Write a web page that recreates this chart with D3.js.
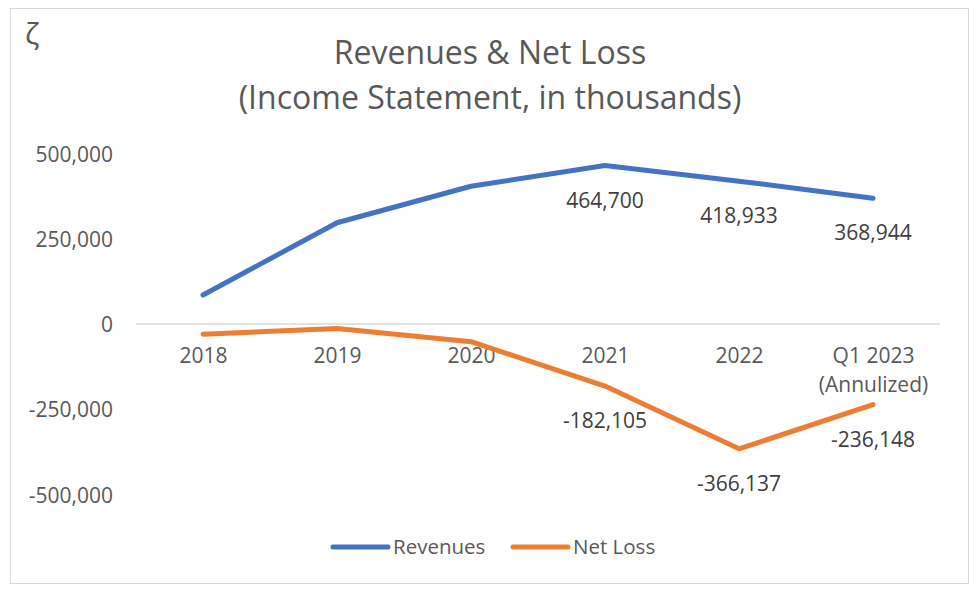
<!DOCTYPE html>
<html lang="en">
    <head>
        <meta charset="utf-8">
        <title>Revenues & Net Loss</title>
        <script type="text/javascript" src="https://d3js.org/d3.v7.min.js"></script>
        <style type="text/css">
            body { margin: 0; background: #ffffff; }
            text { font-family: "Open Sans", sans-serif; }
        </style>
    </head>
    <body>
        <script type="text/javascript">

            //Width and height
            var w = 980;
            var h = 596;

            //Data
            var categories = ["2018", "2019", "2020", "2021", "2022", "Q1 2023"];
            var subLabels = ["", "", "", "", "", "(Annulized)"];
            var revenues = [85000, 297000, 404000, 464700, 418933, 368944];
            var netLoss = [-30000, -13000, -52000, -182105, -366137, -236148];
            //only the last three points carry a label in the original
            var showLabel = [false, false, false, true, true, true];
            var yTicks = [500000, 250000, 0, -250000, -500000];

            var seriesNames = ["Revenues", "Net Loss"];
            var colors = ["#4472C4", "#ED7D31"];

            //plain hyphen for negatives, like the excel chart
            var fmt = d3.formatLocale({
                decimal: ".",
                thousands: ",",
                grouping: [3],
                currency: ["$", ""],
                minus: "-"
            }).format(",");

            var svg = d3.select("body")
                        .append("svg")
                        .attr("width", w)
                        .attr("height", h);

            //chart border
            svg.append("rect")
                .attr("x", 10.5)
                .attr("y", 8.5)
                .attr("width", 958)
                .attr("height", 575)
                .attr("fill", "white")
                .attr("stroke", "#D9D9D9")
                .attr("stroke-width", 1);

            //little zeta mark, top left
            svg.append("text")
                .text("ζ")
                .attr("x", 25)
                .attr("y", 44)
                .attr("font-size", 30)
                .attr("fill", "#595959");

            //Title, two lines
            svg.append("text")
                .text("Revenues & Net Loss")
                .attr("x", 490)
                .attr("y", 64)
                .attr("text-anchor", "middle")
                .attr("font-size", 32)
                .attr("fill", "#595959");

            svg.append("text")
                .text("(Income Statement, in thousands)")
                .attr("x", 490)
                .attr("y", 109)
                .attr("text-anchor", "middle")
                .attr("font-size", 32)
                .attr("fill", "#595959");

            //Scales
            var x = d3.scalePoint()
                .domain(categories)
                .range([136, 940])
                .padding(0.5);

            var y = d3.scaleLinear()
                .domain([-500000, 500000])
                .range([494.5, 153.5]);

            //y axis labels, no axis line
            var yAxis = d3.axisLeft(y)
                .tickValues(yTicks)
                .tickSize(0)
                .tickPadding(0)
                .tickFormat(fmt);

            var yg = svg.append("g")
                .attr("transform", "translate(113,0)")
                .call(yAxis);
            yg.select(".domain").remove();
            yg.selectAll("text")
                .attr("font-size", 21)
                .attr("fill", "#595959")
                .attr("dy", "0.36em");

            //zero line
            svg.append("line")
                .attr("x1", 136)
                .attr("x2", 940)
                .attr("y1", y(0))
                .attr("y2", y(0))
                .attr("stroke", "#D9D9D9")
                .attr("stroke-width", 1.5);

            //category labels sit just under the zero line
            var xAxis = d3.axisBottom(x)
                .tickSize(0)
                .tickPadding(0);

            var xg = svg.append("g")
                .attr("transform", "translate(0," + y(0) + ")")
                .call(xAxis);
            xg.select(".domain").remove();
            xg.selectAll(".tick text")
                .attr("font-size", 21)
                .attr("fill", "#595959")
                .attr("y", 39)
                .attr("dy", 0);

            //second line under Q1 2023
            xg.selectAll(".tick")
                .append("text")
                .text(function(d, i) { return subLabels[i]; })
                .attr("y", 68)
                .attr("text-anchor", "middle")
                .attr("font-size", 21)
                .attr("fill", "#595959");

            //Lines
            var allSeries = [revenues, netLoss];

            var line = d3.line()
                .x(function(d, i) { return x(categories[i]); })
                .y(function(d) { return y(d); });

            svg.selectAll("path.series")
                .data(allSeries)
                .enter()
                .append("path")
                .attr("class", "series")
                .attr("d", function(d) { return line(d); })
                .attr("fill", "none")
                .attr("stroke", function(d, i) { return colors[i]; })
                .attr("stroke-width", 5)
                .attr("stroke-linejoin", "round")
                .attr("stroke-linecap", "round");

            //data labels under the points
            allSeries.forEach(function(series) {
                svg.selectAll(null)
                    .data(series)
                    .enter()
                    .filter(function(d, i) { return showLabel[i]; })
                    .append("text")
                    .text(function(d) { return fmt(d); })
                    .attr("x", function(d, i) { return x(categories[i + 3]); })
                    .attr("y", function(d) { return y(d) + 42; })
                    .attr("text-anchor", "middle")
                    .attr("font-size", 21)
                    .attr("fill", "#404040");
            });

            //Legend
            var legendX = [333, 513];

            var legend = svg.selectAll("g.legend")
                .data(seriesNames)
                .enter()
                .append("g")
                .attr("class", "legend")
                .attr("transform", function(d, i) { return "translate(" + legendX[i] + ",547)"; });

            legend.append("line")
                .attr("x1", 0)
                .attr("x2", 55)
                .attr("stroke", function(d, i) { return colors[i]; })
                .attr("stroke-width", 5)
                .attr("stroke-linecap", "round");

            legend.append("text")
                .text(function(d) { return d; })
                .attr("x", 60)
                .attr("y", 7)
                .attr("font-size", 20.5)
                .attr("fill", "#595959");
        </script>
    </body>
</html>
